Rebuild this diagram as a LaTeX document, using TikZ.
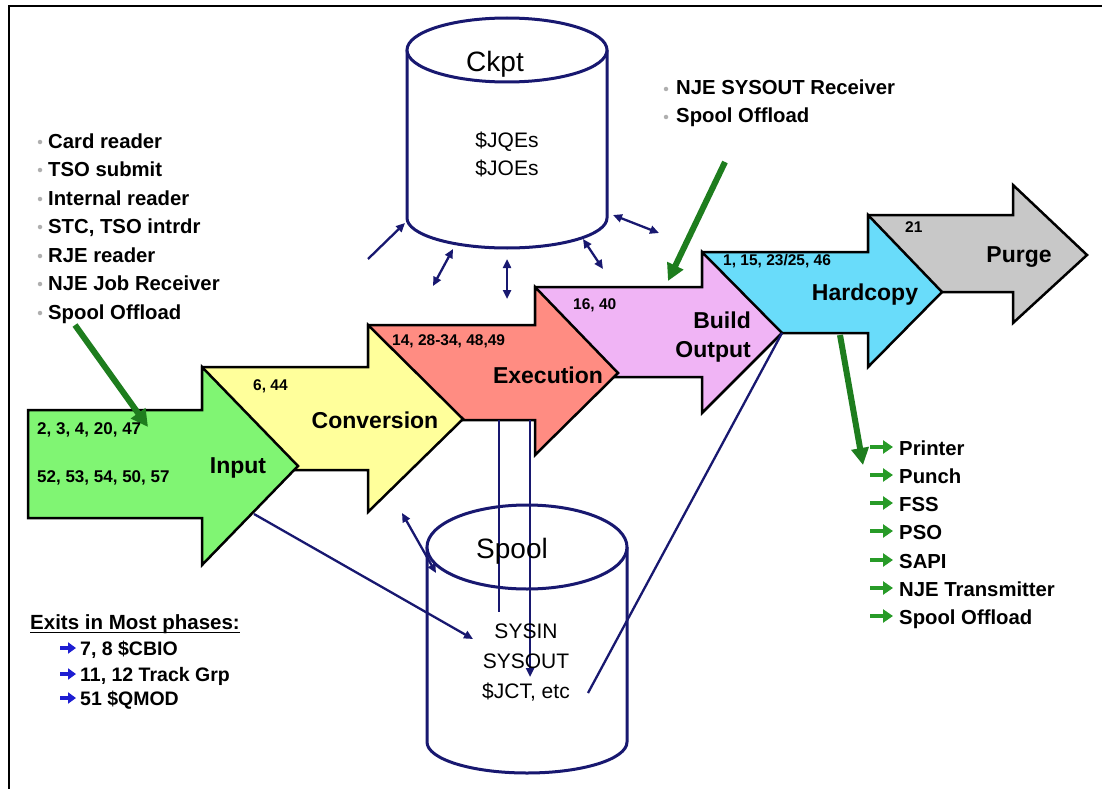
\documentclass[tikz,border=0pt]{standalone}
\usepackage{fontspec}
\setmainfont{Liberation Sans}
\usetikzlibrary{arrows.meta}
\definecolor{navy}{RGB}{24,24,112}
\definecolor{dkgreen}{RGB}{30,125,30}
\definecolor{ltgreen}{RGB}{40,155,40}
\definecolor{exitblue}{RGB}{30,30,210}
\definecolor{bulletgray}{RGB}{175,175,175}
\definecolor{inputfill}{RGB}{128,245,115}
\definecolor{convfill}{RGB}{255,255,155}
\definecolor{execfill}{RGB}{255,140,130}
\definecolor{buildfill}{RGB}{240,180,245}
\definecolor{hardfill}{RGB}{105,220,250}
\definecolor{purgefill}{RGB}{200,200,200}
% #1 fill, #2 tail x, #3 head base x, #4 tip x, #5 body top, #6 body bottom, #7 head top, #8 head bottom, #9 tip y
\newcommand\phasearrow[9]{%
  \filldraw[phase, fill=#1] (#2,#5) -- (#3,#5) -- (#3,#7) -- (#4,#9) -- (#3,#8) -- (#3,#6) -- (#2,#6) -- cycle;}
% bullet arrow: #1 style, #2 x, #3 y (centre), #4 length
\newcommand\bularrow[4]{\draw[#1] (#2,#3) -- ++(#4,0);}
\tikzset{
  phase/.style={draw=black, line width=2.5pt, line join=miter},
  numt/.style={font=\fontsize{15.5}{18}\selectfont\bfseries, anchor=base west, inner sep=0pt},
  numbig/.style={font=\fontsize{17}{20}\selectfont\bfseries, anchor=base west, inner sep=0pt},
  phaselbl/.style={font=\fontsize{23}{26}\selectfont\bfseries, anchor=base, inner sep=0pt},
  listt/.style={font=\fontsize{20.3}{24}\selectfont\bfseries, anchor=base west, inner sep=0pt},
  exitt/.style={font=\fontsize{19.5}{22}\selectfont\bfseries, anchor=base west, inner sep=0pt},
  cylt/.style={font=\fontsize{21}{24}\selectfont, anchor=base, inner sep=0pt},
  cyltitle/.style={font=\fontsize{28}{32}\selectfont, anchor=base, inner sep=0pt},
  bulletdot/.style={circle, fill=bulletgray, inner sep=0pt, minimum size=4.5pt},
  garrsty/.style={draw=ltgreen, line width=4pt, -{Triangle[length=10pt,width=13pt]}},
  barrsty/.style={draw=exitblue, line width=3.5pt, -{Triangle[length=8pt,width=11pt]}},
  cyl/.style={draw=navy, line width=3pt, fill=white},
  link/.style={draw=navy, line width=2.3pt},
  navytip/.tip={Triangle[length=9pt,width=8pt]},
  gthick/.style={draw=dkgreen, line width=6pt, -{Triangle[length=17pt,width=17pt]}},
}
\begin{document}
\begin{tikzpicture}[x=1pt,y=-1pt]
\useasboundingbox (0,0) rectangle (1102,789);
\fill[white] (0,0) rectangle (1102,789);
% frame
\coordinate (fBL) at (9,789);
\coordinate (fTL) at (9,6);
\coordinate (fTR) at (1102,6);
\draw[line width=1.5pt] (fBL) -- (fTL) -- (fTR);

% Spool cylinder
\draw[cyl] (427,547) -- (427,742) arc[start angle=180, end angle=0, x radius=100, y radius=31] -- (627,547);
\draw[cyl] (527,547) ellipse[x radius=100, y radius=42];
% Ckpt cylinder
\draw[cyl] (407,50) -- (407,218) arc[start angle=180, end angle=0, x radius=100, y radius=30] -- (607,50);
\draw[cyl] (507,50) ellipse[x radius=100, y radius=32];

% phase arrows (right to left so earlier heads overlap)
\phasearrow{purgefill}{868}{1013}{1087}{215}{292}{185}{323}{255}
\phasearrow{hardfill}{702}{868}{942}{252}{333}{215}{367}{292}
\phasearrow{buildfill}{535}{702}{782}{287}{377}{252}{413}{333}
\phasearrow{execfill}{368}{535}{618}{325}{420}{287}{455}{373}
\phasearrow{convfill}{202}{368}{463}{367}{470}{325}{512}{419}
\phasearrow{inputfill}{28}{202}{298}{410}{518}{367}{565}{466}

% navy connectors around Ckpt
\coordinate (ck1a) at (368,259); \coordinate (ck1b) at (405,223);
\coordinate (ck2a) at (453,249); \coordinate (ck2b) at (433,286);
\coordinate (ck3a) at (507,259); \coordinate (ck3b) at (507,299);
\coordinate (ck4a) at (583,239); \coordinate (ck4b) at (603,269);
\coordinate (ck5a) at (613,215); \coordinate (ck5b) at (659,233);
\draw[link, -{navytip}] (ck1a) -- (ck1b);
\draw[link, {navytip}-{navytip}] (ck2a) -- (ck2b);
\draw[link, {navytip}-{navytip}] (ck3a) -- (ck3b);
\draw[link, {navytip}-{navytip}] (ck4a) -- (ck4b);
\draw[link, {navytip}-{navytip}] (ck5a) -- (ck5b);

% navy connectors around Spool
\coordinate (in1) at (254,514); \coordinate (sp1) at (473,639);
\coordinate (sp2a) at (402,513); \coordinate (sp2b) at (436,573);
\coordinate (ex1) at (499,420); \coordinate (sp3) at (499,612);
\coordinate (ex2) at (530,420); \coordinate (sp4) at (530,677);
\coordinate (bo) at (782,333); \coordinate (sp5) at (588,693);
\draw[link, -{navytip}] (in1) -- (sp1);
\draw[link, {navytip}-{navytip}] (sp2a) -- (sp2b);
\draw[link, line width=2.6pt] (ex1) -- (sp3);
\draw[link, line width=2.6pt, -{navytip}] (ex2) -- (sp4);
\draw[link] (bo) -- (sp5);

% green thick arrows
\coordinate (g1a) at (75,325); \coordinate (g1b) at (148,427);
\coordinate (g2a) at (725,162); \coordinate (g2b) at (668,281);
\coordinate (g3a) at (840,335); \coordinate (g3b) at (863,465);
\draw[gthick] (g1a) -- (g1b);
\draw[gthick] (g2a) -- (g2b);
\draw[gthick] (g3a) -- (g3b);

% cylinder texts
\node[cyltitle] (ckpt) at (495,72) {Ckpt};
\node[cylt] (jqe) at (507,147) {\$JQEs};
\node[cylt] (joe) at (507,175) {\$JOEs};
\node[cyltitle] (spool) at (512,558) {Spool};
\node[cylt] (sysin) at (526,638) {SYSIN};
\node[cylt] (sysout) at (526,668) {SYSOUT};
\node[cylt] (jct) at (526,698) {\$JCT, etc};

% phase labels and exit numbers
\node[numbig] (n1) at (37,434) {2, 3, 4, 20, 47};
\node[numbig] (n2) at (37,482) {52, 53, 54, 50, 57};
\node[phaselbl] (linput) at (238,473) {Input};
\node[numt] (n3) at (253,390) {6, 44};
\node[phaselbl] (lconv) at (375,428) {Conversion};
\node[numt] (n4) at (392,345) {14, 28-34, 48,49};
\node[phaselbl] (lexec) at (548,383) {Execution};
\node[numt] (n5) at (573,309) {16, 40};
\node[phaselbl, anchor=base east] (lbuild) at (751,328) {Build};
\node[phaselbl, anchor=base east] (lout) at (751,357) {Output};
\node[numt] (n6) at (723,265) {1, 15, 23/25, 46};
\node[phaselbl] (lhard) at (865,300) {Hardcopy};
\node[numt] (n7) at (905,232) {21};
\node[phaselbl] (lpurge) at (1019,262) {Purge};

% input sources list
\node[bulletdot] (b1) at (40,142) {}; \node[listt] (t1) at (48,148) {Card reader};
\node[bulletdot] (b2) at (40,170) {}; \node[listt] (t2) at (48,176) {TSO submit};
\node[bulletdot] (b3) at (40,199) {}; \node[listt] (t3) at (48,205) {Internal reader};
\node[bulletdot] (b4) at (40,227) {}; \node[listt] (t4) at (48,233) {STC, TSO intrdr};
\node[bulletdot] (b5) at (40,256) {}; \node[listt] (t5) at (48,262) {RJE reader};
\node[bulletdot] (b6) at (40,284) {}; \node[listt] (t6) at (48,290) {NJE Job Receiver};
\node[bulletdot] (b7) at (40,313) {}; \node[listt] (t7) at (48,319) {Spool Offload};

% sysout receivers list
\node[bulletdot] (b8) at (666,89) {}; \node[listt] (t8) at (676,95) {NJE SYSOUT Receiver};
\node[bulletdot] (b9) at (666,117) {}; \node[listt] (t9) at (676,123) {Spool Offload};

% output destinations list
\bularrow{garrsty}{870}{447}{23} \node[listt] (d1) at (899,455) {Printer};
\bularrow{garrsty}{870}{475}{23} \node[listt] (d2) at (899,483) {Punch};
\bularrow{garrsty}{870}{503}{23} \node[listt] (d3) at (899,511) {FSS};
\bularrow{garrsty}{870}{531}{23} \node[listt] (d4) at (899,539) {PSO};
\bularrow{garrsty}{870}{560}{23} \node[listt] (d5) at (899,568) {SAPI};
\bularrow{garrsty}{870}{588}{23} \node[listt] (d6) at (899,596) {NJE Transmitter};
\bularrow{garrsty}{870}{616}{23} \node[listt] (d7) at (899,624) {Spool Offload};

% exits
\node[font=\fontsize{20.5}{24}\selectfont\bfseries, anchor=base west, inner sep=0pt] (exh) at (30,629) {Exits in Most phases:};
\draw[line width=1.6pt] ([yshift=-3.5pt]exh.base west) -- ([yshift=-3.5pt]exh.base east);
\bularrow{barrsty}{60}{648}{16} \node[exitt] (x1) at (80,655) {7, 8 \$CBIO};
\bularrow{barrsty}{60}{674}{16} \node[exitt] (x2) at (80,681) {11, 12 Track Grp};
\bularrow{barrsty}{60}{698}{16} \node[exitt] (x3) at (80,705) {51 \$QMOD};
\end{tikzpicture}
\end{document}
